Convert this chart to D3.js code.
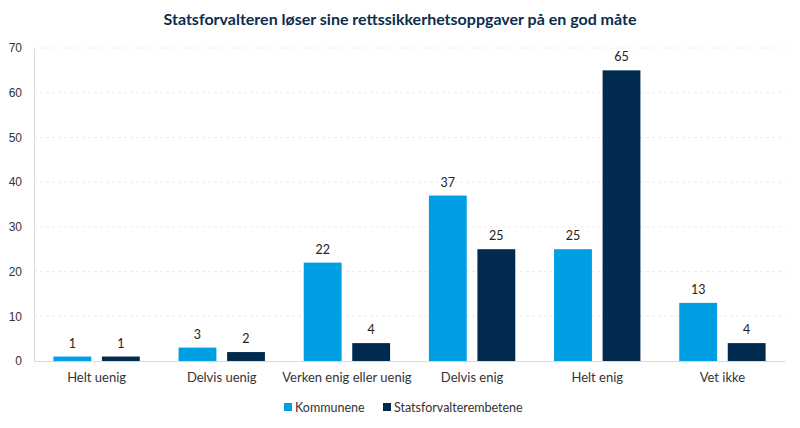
<!DOCTYPE html>
<html>
<head>
<meta charset="utf-8">
<script src="https://cdn.jsdelivr.net/npm/d3@7"></script>
<style>
  body { margin: 0; background: #fff; }
  svg { display: block; }
</style>
</head>
<body>
<div id="chart"></div>
<script>
const categories = ["Helt uenig", "Delvis uenig", "Verken enig eller uenig", "Delvis enig", "Helt enig", "Vet ikke"]
const seriesNames = ["Kommunene", "Statsforvalterembetene"]
const kommunene = [1, 3, 22, 37, 25, 13]
const statsforvalter = [1, 2, 4, 25, 65, 4]
const yTicks = [0, 10, 20, 30, 40, 50, 60, 70]
const colors = ["#009fe3", "#002a4e"]

const width = 800
const height = 428
const margin = { top: 48, right: 15, bottom: 67, left: 34 }

const svg = d3.select("#chart")
  .append("svg")
  .attr("width", width)
  .attr("height", height)

svg.append("text")
  .attr("x", 400)
  .attr("y", 25)
  .attr("text-anchor", "middle")
  .attr("font-family", "Lato, sans-serif")
  .attr("font-weight", "bold")
  .attr("font-size", 16)
  .attr("fill", "#0b2d4f")
  .text("Statsforvalteren løser sine rettssikkerhetsoppgaver på en god måte")

const x = d3.scaleBand()
  .domain(categories)
  .range([margin.left, width - margin.right])

const x1 = d3.scaleBand()
  .domain(seriesNames)
  .range([0, x.bandwidth()])
  .paddingInner(0.22)
  .paddingOuter(0.4)

const y = d3.scaleLinear()
  .domain([0, 70])
  .range([height - margin.bottom, margin.top])

// gridlines
svg.append("g")
  .selectAll("line")
  .data(yTicks.filter(d => d > 0))
  .join("line")
  .attr("x1", margin.left)
  .attr("x2", width - margin.right)
  .attr("y1", d => y(d))
  .attr("y2", d => y(d))
  .attr("stroke", "#ececec")
  .attr("stroke-dasharray", "3,3")

// y axis
const yAxis = svg.append("g")
  .attr("transform", `translate(${margin.left},0)`)
  .call(d3.axisLeft(y).tickValues(yTicks).tickSize(0).tickPadding(12))
yAxis.select(".domain").attr("stroke", "#d9d9d9")
yAxis.selectAll("text")
  .attr("font-family", "Liberation Sans, Arial, sans-serif")
  .attr("font-size", 12)
  .attr("fill", "#333")

// x axis
const xAxis = svg.append("g")
  .attr("transform", `translate(0,${y(0)})`)
  .call(d3.axisBottom(x).tickSize(0).tickPadding(12))
xAxis.select(".domain").attr("stroke", "#d9d9d9")
xAxis.selectAll("text")
  .attr("font-family", "Lato, sans-serif")
  .attr("font-size", 13)
  .attr("fill", "#333")

const rows = categories.map((c, i) => ({
  cat: c,
  vals: [
    { s: seriesNames[0], v: kommunene[i], c: colors[0] },
    { s: seriesNames[1], v: statsforvalter[i], c: colors[1] }
  ]
}))

const groups = svg.append("g")
  .selectAll("g")
  .data(rows)
  .join("g")
  .attr("transform", d => `translate(${x(d.cat)},0)`)

groups.selectAll("rect")
  .data(d => d.vals)
  .join("rect")
  .attr("x", d => x1(d.s))
  .attr("width", x1.bandwidth())
  .attr("y", d => y(d.v))
  .attr("height", d => y(0) - y(d.v))
  .attr("fill", d => d.c)

groups.selectAll("text")
  .data(d => d.vals)
  .join("text")
  .attr("x", d => x1(d.s) + x1.bandwidth() / 2)
  .attr("y", d => y(d.v) - 9)
  .attr("text-anchor", "middle")
  .attr("font-family", "Lato, sans-serif")
  .attr("font-size", 12.5)
  .attr("fill", "#222")
  .text(d => d.v)

// legend
const legendX = [284, 383]
const legend = svg.append("g")
  .selectAll("g")
  .data(seriesNames)
  .join("g")
  .attr("transform", (d, i) => `translate(${legendX[i]},407)`)
legend.append("rect")
  .attr("x", 0)
  .attr("y", -4)
  .attr("width", 8)
  .attr("height", 8)
  .attr("fill", (d, i) => colors[i])
legend.append("text")
  .attr("x", 11)
  .attr("y", 4.5)
  .attr("font-family", "Lato, sans-serif")
  .attr("font-size", 12.5)
  .attr("fill", "#333")
  .text(d => d)
</script>
</body>
</html>
